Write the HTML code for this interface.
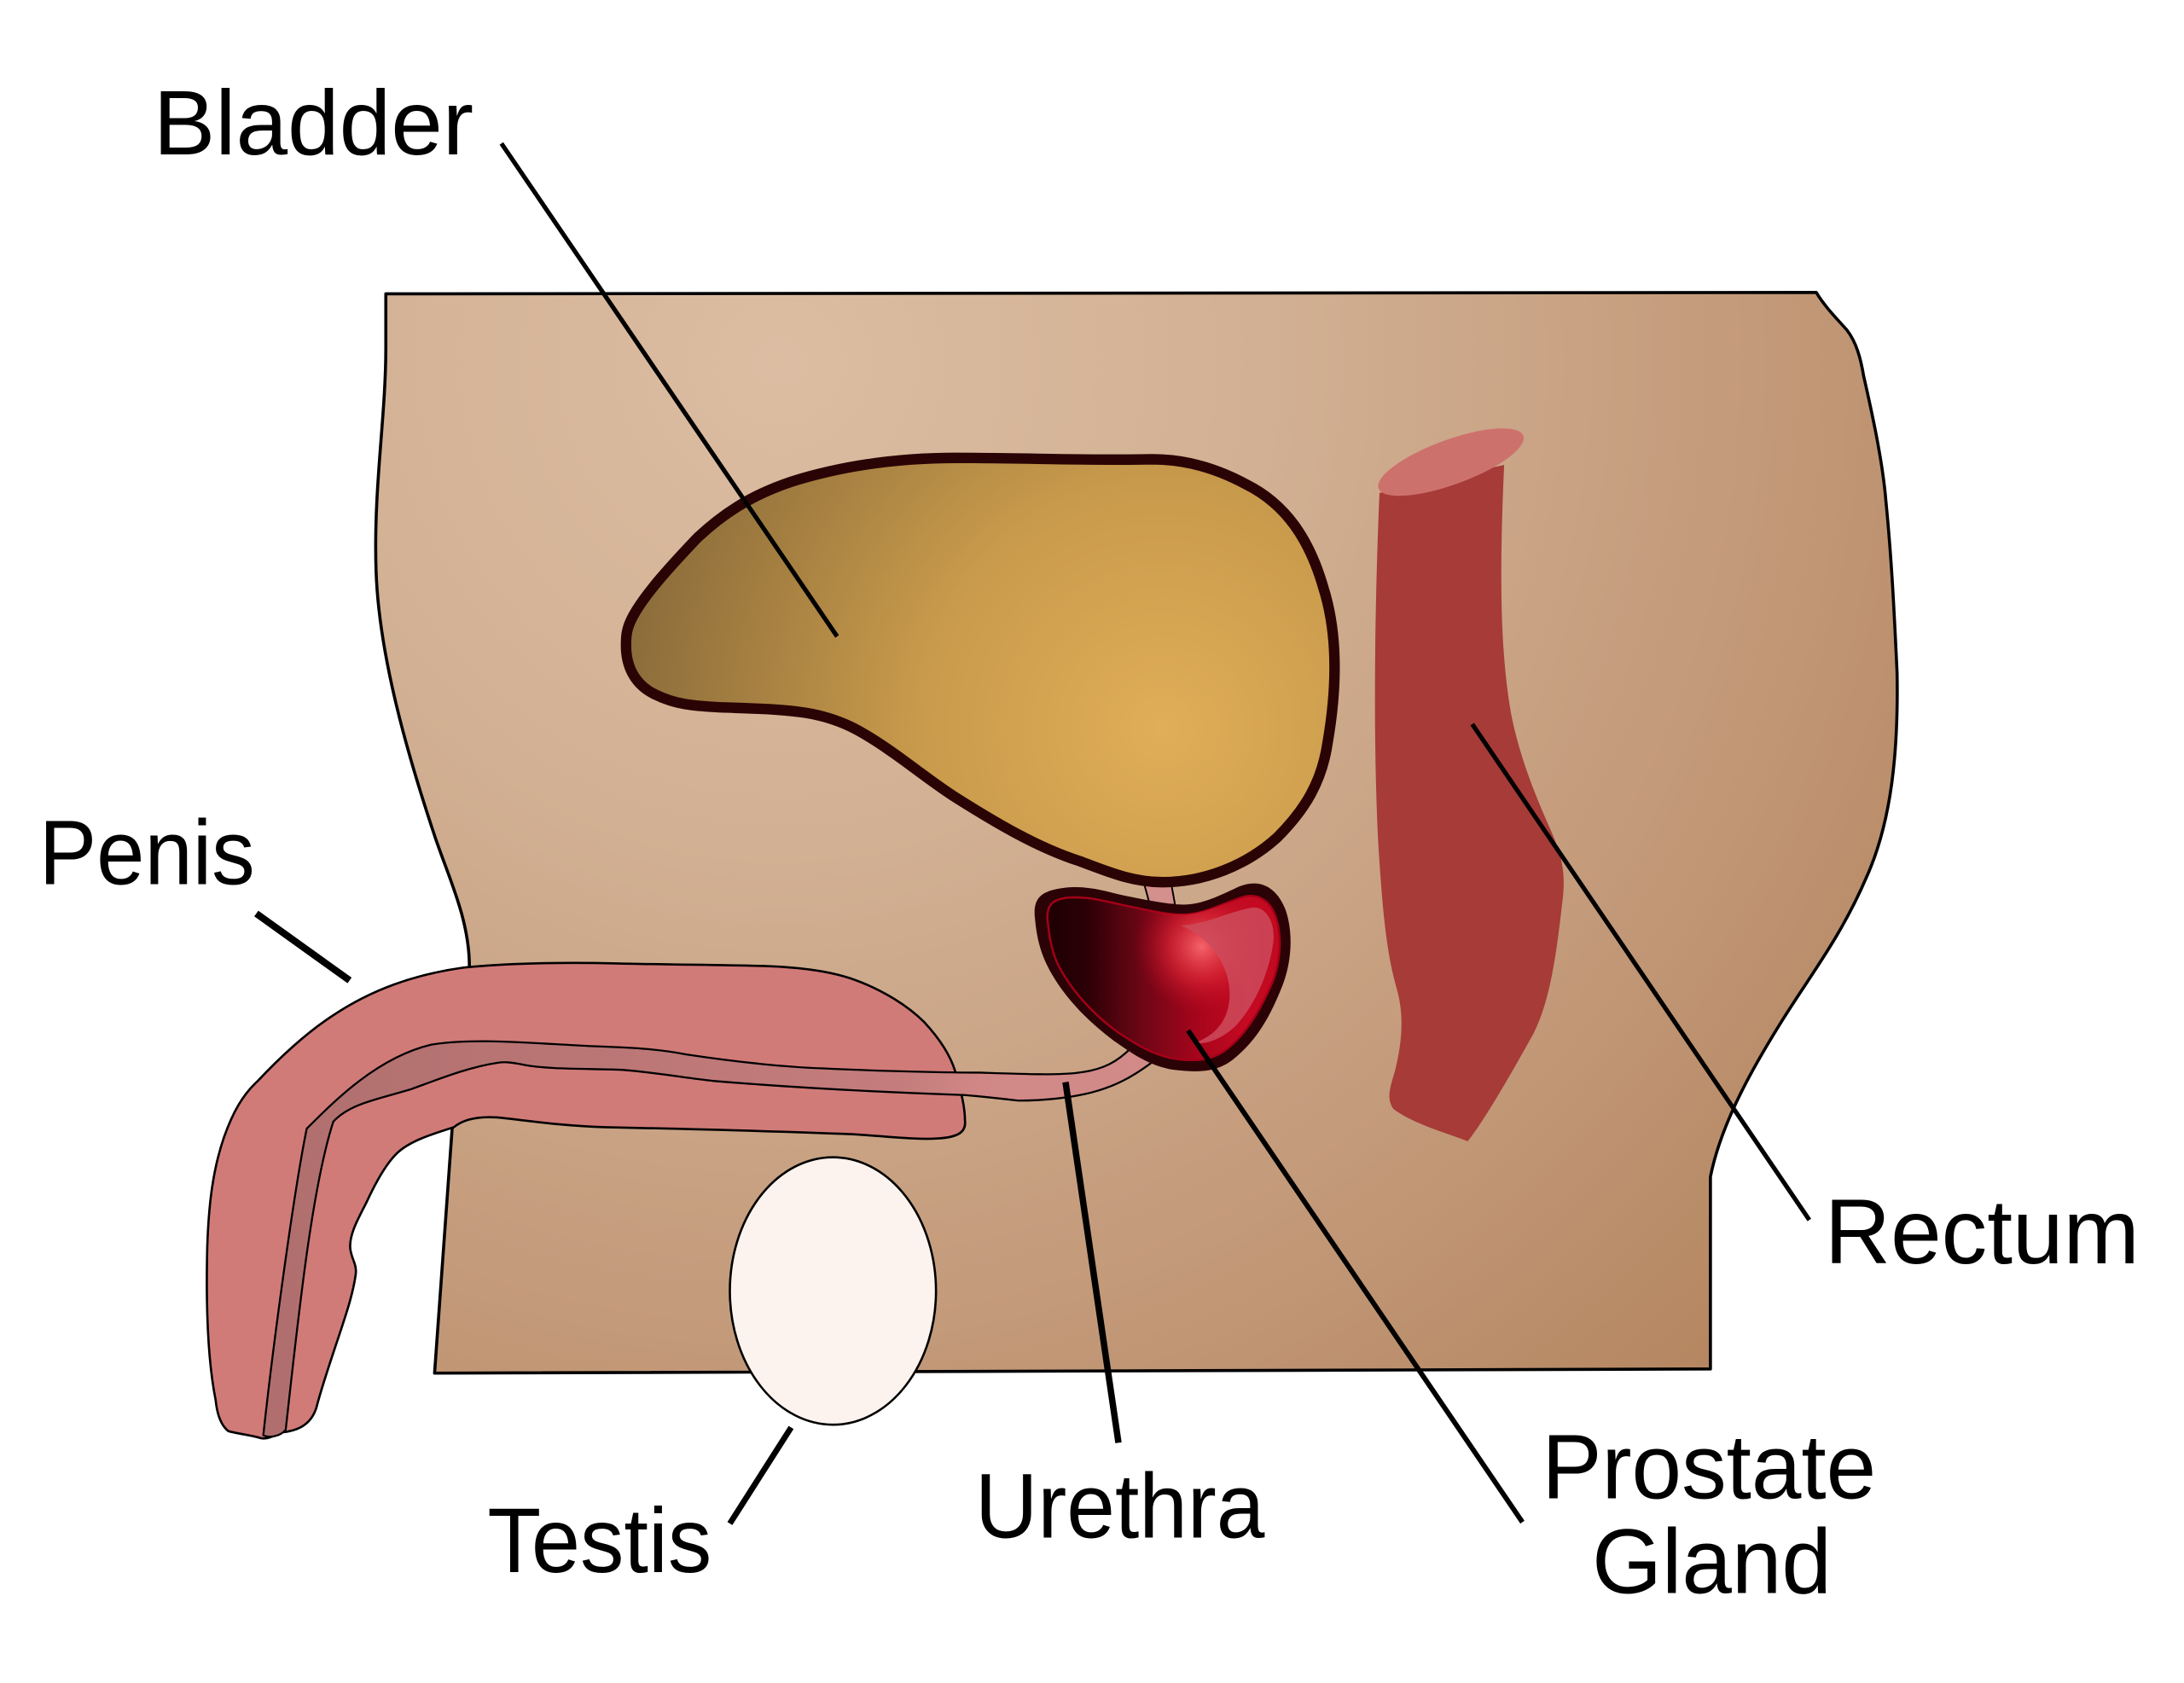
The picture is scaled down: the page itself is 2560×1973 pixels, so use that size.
<!DOCTYPE html>
<html>
<head>
<meta charset="utf-8">
<style>
  html,body{margin:0;padding:0;background:#ffffff;}
  svg{display:block;}
  text{font-family:"Liberation Sans",Arial,sans-serif;fill:#000;}
</style>
</head>
<body>
<svg width="2560" height="1973" viewBox="0 0 1568 1208.5" preserveAspectRatio="none" xmlns="http://www.w3.org/2000/svg">
  <defs>
    <radialGradient id="bodyG" gradientUnits="userSpaceOnUse" cx="560" cy="260" r="1000">
      <stop offset="0" stop-color="#dcbda2"/>
      <stop offset="0.35" stop-color="#d2b093"/>
      <stop offset="0.7" stop-color="#c39a7a"/>
      <stop offset="1" stop-color="#b4855f"/>
    </radialGradient>
    <radialGradient id="bladG" gradientUnits="userSpaceOnUse" cx="830" cy="520" r="390">
      <stop offset="0" stop-color="#e0ae58"/>
      <stop offset="0.45" stop-color="#c89a4b"/>
      <stop offset="1" stop-color="#8a6b3a"/>
    </radialGradient>
    <linearGradient id="prosG" gradientUnits="userSpaceOnUse" x1="750" y1="0" x2="915" y2="0">
      <stop offset="0" stop-color="#1f0003"/>
      <stop offset="0.15" stop-color="#2a0005"/>
      <stop offset="0.4" stop-color="#6e0616"/>
      <stop offset="0.65" stop-color="#a9051c"/>
      <stop offset="0.85" stop-color="#c50a22"/>
      <stop offset="1" stop-color="#c00a20"/>
    </linearGradient>
    <radialGradient id="prosH" gradientUnits="userSpaceOnUse" cx="858" cy="676" r="48">
      <stop offset="0" stop-color="#f4646b" stop-opacity="1"/>
      <stop offset="0.5" stop-color="#e22a38" stop-opacity="0.6"/>
      <stop offset="1" stop-color="#c00a20" stop-opacity="0"/>
    </radialGradient>
    <linearGradient id="urG" gradientUnits="userSpaceOnUse" x1="200" y1="0" x2="720" y2="0">
      <stop offset="0" stop-color="#b06f6e"/>
      <stop offset="0.85" stop-color="#c47d7c"/>
      <stop offset="0.95" stop-color="#cf8684"/>
      <stop offset="1" stop-color="#d28a88"/>
    </linearGradient>
  </defs>

  <!-- body -->
  <path d="M277,211 L1304,210 C1310,220 1318,228 1326,237 C1333,246 1336,258 1338,270 C1346,305 1352,335 1354,360 C1358,400 1360,440 1362,483 C1363,540 1358,590 1340,630 C1322,672 1300,700 1280,732 C1260,764 1236,805 1228,845 L1228,983 L312,986 L325,805 L337,694 C337,660 322,630 312,600 C292,540 272,470 270,410 C268,350 277,300 277,250 Z"
        fill="url(#bodyG)" stroke="#000" stroke-width="2.2" stroke-linejoin="round"/>

  <g transform="scale(1.0055)">
    <!-- bladder-prostate tube -->
    <path d="M815,624 L835,624 L839,646 L821,646 Z" fill="#d4908c" stroke="#000" stroke-width="1.2"/>

    <!-- bladder -->
    <path d="M447,461 C447,478 455,490 468,496 C482,503 495,504 512,505 C535,506 555,506 575,509 C600,513 615,522 634,535 C650,546 662,556 680,568 C710,587 740,605 771,615 C790,622 808,630 830,630 C860,630 890,618 912,598 C932,578 944,558 948,530 C954,495 956,455 945,420 C935,385 918,360 890,346 C868,334 845,328 823,328 C780,329 730,327 683,327 C640,327 600,333 565,344 C535,354 515,368 498,384 C478,405 460,425 452,440 C447,449 447,455 447,461 Z"
          fill="url(#bladG)" stroke="#2a0304" stroke-width="7.5" stroke-linejoin="round"/>

    <!-- rectum -->
    <path d="M985,352 C982,420 980,520 984,600 C987,650 990,680 997,705 C1003,725 1001,745 996,765 C992,778 990,785 995,792 C1010,803 1030,808 1048,815 C1060,800 1080,765 1095,738 C1108,712 1112,675 1116,640 C1118,620 1114,608 1106,590 C1095,565 1085,540 1079,510 C1072,470 1070,420 1074,332 Z" fill="#a63b37"/>
    <ellipse cx="1036" cy="330" rx="55" ry="16" transform="rotate(-20 1036 330)" fill="#cd716d"/>

    <!-- penis -->
    <path d="M331,691 C360,688 400,687 440,688 C480,689 520,689 549,690 C575,691 595,694 611,700 C630,707 648,718 660,730 C672,743 679,755 682,765 C686,778 689,790 689,800 C690,808 685,812 670,813 C655,814 640,812 609,810 C560,808 480,806 432,805 C400,804 375,800 355,798 C340,797 330,800 324,805 C308,810 292,815 283,824 C275,832 268,845 262,858 C256,870 250,880 250,890 C250,898 255,902 254,910 C252,925 246,942 240,960 C234,978 229,993 226,1005 C222,1018 212,1022 200,1023 C195,1026 190,1028 186,1027 C180,1025 170,1024 163,1022 C158,1018 155,1010 154,1000 C148,970 147,930 148,890 C149,860 152,835 160,812 C166,795 173,782 184,772 C200,755 218,738 238,725 C265,707 295,696 331,691 Z"
          fill="#d17b79" stroke="#000" stroke-width="1.6" stroke-linejoin="round"/>

    <!-- urethra -->
    <path d="M188,1025 C195,960 210,850 219,806 C240,785 270,755 308,746 C340,741 380,745 420,747 C450,748 470,749 490,753 C530,759 560,762 588,763 C630,765 680,766 700,766 C730,767 755,768 770,766 C788,764 798,758 808,748 L826,756 C808,770 795,776 780,780 C765,784 745,786 727,786 C710,784 700,783 689,782 C630,780 570,777 510,772 C490,770 470,766 444,764 C420,763 390,764 372,760 C366,759 362,758 355,759 C335,762 315,770 293,778 C270,785 250,788 238,801 C222,850 212,950 204,1021 C200,1026 192,1027 188,1025 Z"
          fill="url(#urG)" stroke="#000" stroke-width="1.4" stroke-linejoin="round"/>

    <!-- prostate -->
    <path d="M739,656 C737,640 745,636 760,634 C778,632 790,637 805,640 C820,643 835,646 845,646 C858,646 870,640 885,633 C900,627 912,634 918,650 C924,668 922,690 914,708 C905,730 895,745 880,757 C868,766 855,766 838,764 C820,761 808,752 795,743 C775,728 758,710 748,690 C742,678 740,667 739,656 Z" fill="#2b0306"/>
    <path d="M748,657 C747,646 752,642 763,641 C778,640 790,644 805,647 C820,650 835,654 848,653 C860,652 872,646 886,641 C898,637 907,643 911,655 C916,670 914,690 907,705 C898,725 888,740 875,750 C864,758 852,758 838,756 C822,753 810,745 798,737 C780,724 765,707 756,690 C751,680 749,669 748,657 Z" fill="url(#prosG)" stroke="#a50018" stroke-width="1.5"/>
    <path d="M748,657 C747,646 752,642 763,641 C778,640 790,644 805,647 C820,650 835,654 848,653 C860,652 872,646 886,641 C898,637 907,643 911,655 C916,670 914,690 907,705 C898,725 888,740 875,750 C864,758 852,758 838,756 C822,753 810,745 798,737 C780,724 765,707 756,690 C751,680 749,669 748,657 Z" fill="url(#prosH)"/>
    <path d="M843,661 C862,668 878,688 878,710 C878,728 868,740 852,745 C862,746 872,742 882,733 C896,718 906,695 909,674 C911,660 905,648 895,648 C880,650 862,660 843,661 Z" fill="#cc4b5c" opacity="0.85"/>
  </g>

  <!-- testis -->
  <ellipse cx="598" cy="927" rx="74" ry="96" fill="#fdf3ee" stroke="#000" stroke-width="1.6"/>

  <!-- leader lines -->
  <g stroke="#000" stroke-linecap="butt" fill="none">
    <line x1="360" y1="103" x2="601" y2="457" stroke-width="3.2"/>
    <line x1="184" y1="656" x2="251" y2="704" stroke-width="5"/>
    <line x1="1057" y1="520" x2="1299" y2="876" stroke-width="3.2"/>
    <line x1="853" y1="740" x2="1093" y2="1093" stroke-width="3.6"/>
    <line x1="765" y1="777" x2="803" y2="1036" stroke-width="4.6"/>
    <line x1="568" y1="1025" x2="524" y2="1094" stroke-width="4.2"/>
  </g>

  <!-- labels -->
  <text x="110" y="111" font-size="66" textLength="230" lengthAdjust="spacingAndGlyphs">Bladder</text>
  <text x="28" y="635" font-size="66" textLength="155" lengthAdjust="spacingAndGlyphs">Penis</text>
  <text x="1310" y="907" font-size="66" textLength="226" lengthAdjust="spacingAndGlyphs">Rectum</text>
  <text x="1107" y="1076" font-size="66" textLength="240" lengthAdjust="spacingAndGlyphs">Prostate</text>
  <text x="1143" y="1144" font-size="66" textLength="172" lengthAdjust="spacingAndGlyphs">Gland</text>
  <text x="700" y="1104" font-size="66" textLength="208" lengthAdjust="spacingAndGlyphs">Urethra</text>
  <text x="350" y="1129" font-size="66" textLength="161" lengthAdjust="spacingAndGlyphs">Testis</text>
</svg>
</body>
</html>
